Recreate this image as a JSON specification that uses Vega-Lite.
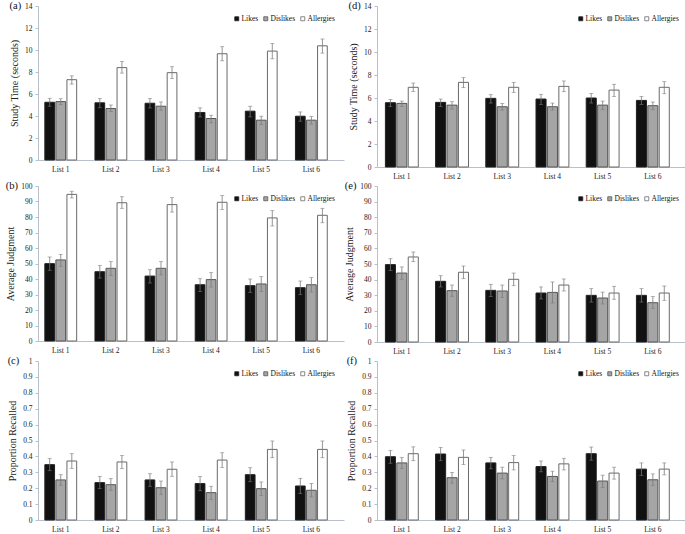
{
  "$schema": "https://vega.github.io/schema/vega-lite/v6.json",
  "background": "white",
  "padding": {"left": 5, "top": 0, "right": 0, "bottom": 0},
  "data": {"values": [
    {"p":"a","list":"List 1","cond":"Likes","m":5.25,"lo":4.89,"hi":5.61},
    {"p":"a","list":"List 1","cond":"Dislikes","m":5.31,"lo":5.04,"hi":5.57},
    {"p":"a","list":"List 1","cond":"Allergies","m":7.3,"lo":6.9,"hi":7.65},
    {"p":"a","list":"List 2","cond":"Likes","m":5.2,"lo":4.75,"hi":5.6},
    {"p":"a","list":"List 2","cond":"Dislikes","m":4.68,"lo":4.4,"hi":5.0},
    {"p":"a","list":"List 2","cond":"Allergies","m":8.4,"lo":7.9,"hi":8.95},
    {"p":"a","list":"List 3","cond":"Likes","m":5.16,"lo":4.73,"hi":5.58},
    {"p":"a","list":"List 3","cond":"Dislikes","m":4.89,"lo":4.53,"hi":5.28},
    {"p":"a","list":"List 3","cond":"Allergies","m":7.94,"lo":7.42,"hi":8.48},
    {"p":"a","list":"List 4","cond":"Likes","m":4.32,"lo":3.92,"hi":4.74},
    {"p":"a","list":"List 4","cond":"Dislikes","m":3.77,"lo":3.38,"hi":4.07},
    {"p":"a","list":"List 4","cond":"Allergies","m":9.66,"lo":9.02,"hi":10.3},
    {"p":"a","list":"List 5","cond":"Likes","m":4.44,"lo":3.92,"hi":4.89},
    {"p":"a","list":"List 5","cond":"Dislikes","m":3.62,"lo":3.23,"hi":3.98},
    {"p":"a","list":"List 5","cond":"Allergies","m":9.9,"lo":9.2,"hi":10.6},
    {"p":"a","list":"List 6","cond":"Likes","m":3.98,"lo":3.53,"hi":4.37},
    {"p":"a","list":"List 6","cond":"Dislikes","m":3.62,"lo":3.26,"hi":3.95},
    {"p":"a","list":"List 6","cond":"Allergies","m":10.38,"lo":9.72,"hi":11.0},

    {"p":"d","list":"List 1","cond":"Likes","m":5.59,"lo":5.27,"hi":5.88},
    {"p":"d","list":"List 1","cond":"Dislikes","m":5.53,"lo":5.27,"hi":5.73},
    {"p":"d","list":"List 1","cond":"Allergies","m":6.93,"lo":6.57,"hi":7.3},
    {"p":"d","list":"List 2","cond":"Likes","m":5.62,"lo":5.27,"hi":5.91},
    {"p":"d","list":"List 2","cond":"Dislikes","m":5.38,"lo":5.04,"hi":5.68},
    {"p":"d","list":"List 2","cond":"Allergies","m":7.36,"lo":6.9,"hi":7.77},
    {"p":"d","list":"List 3","cond":"Likes","m":5.97,"lo":5.56,"hi":6.29},
    {"p":"d","list":"List 3","cond":"Dislikes","m":5.24,"lo":4.95,"hi":5.53},
    {"p":"d","list":"List 3","cond":"Allergies","m":6.93,"lo":6.49,"hi":7.36},
    {"p":"d","list":"List 4","cond":"Likes","m":5.91,"lo":5.44,"hi":6.32},
    {"p":"d","list":"List 4","cond":"Dislikes","m":5.24,"lo":4.95,"hi":5.56},
    {"p":"d","list":"List 4","cond":"Allergies","m":7.01,"lo":6.55,"hi":7.48},
    {"p":"d","list":"List 5","cond":"Likes","m":6.0,"lo":5.56,"hi":6.4},
    {"p":"d","list":"List 5","cond":"Dislikes","m":5.38,"lo":4.98,"hi":5.73},
    {"p":"d","list":"List 5","cond":"Allergies","m":6.69,"lo":6.14,"hi":7.19},
    {"p":"d","list":"List 6","cond":"Likes","m":5.79,"lo":5.44,"hi":6.14},
    {"p":"d","list":"List 6","cond":"Dislikes","m":5.33,"lo":4.98,"hi":5.65},
    {"p":"d","list":"List 6","cond":"Allergies","m":6.93,"lo":6.37,"hi":7.42},

    {"p":"b","list":"List 1","cond":"Likes","m":49.9,"lo":45.6,"hi":54.2},
    {"p":"b","list":"List 1","cond":"Dislikes","m":52.3,"lo":48.2,"hi":55.9},
    {"p":"b","list":"List 1","cond":"Allergies","m":94.6,"lo":92.3,"hi":96.6},
    {"p":"b","list":"List 2","cond":"Likes","m":44.7,"lo":40.6,"hi":48.8},
    {"p":"b","list":"List 2","cond":"Dislikes","m":46.9,"lo":42.2,"hi":51.2},
    {"p":"b","list":"List 2","cond":"Allergies","m":89.2,"lo":85.6,"hi":93.1},
    {"p":"b","list":"List 3","cond":"Likes","m":41.9,"lo":37.4,"hi":46.0},
    {"p":"b","list":"List 3","cond":"Dislikes","m":46.9,"lo":42.6,"hi":51.2},
    {"p":"b","list":"List 3","cond":"Allergies","m":88.0,"lo":83.2,"hi":92.5},
    {"p":"b","list":"List 4","cond":"Likes","m":36.3,"lo":32.0,"hi":40.2},
    {"p":"b","list":"List 4","cond":"Dislikes","m":39.6,"lo":34.8,"hi":44.1},
    {"p":"b","list":"List 4","cond":"Allergies","m":89.5,"lo":84.9,"hi":93.8},
    {"p":"b","list":"List 5","cond":"Likes","m":35.7,"lo":31.4,"hi":40.0},
    {"p":"b","list":"List 5","cond":"Dislikes","m":36.8,"lo":32.0,"hi":41.5},
    {"p":"b","list":"List 5","cond":"Allergies","m":79.4,"lo":74.2,"hi":84.1},
    {"p":"b","list":"List 6","cond":"Likes","m":34.4,"lo":29.9,"hi":38.7},
    {"p":"b","list":"List 6","cond":"Dislikes","m":36.3,"lo":31.6,"hi":40.9},
    {"p":"b","list":"List 6","cond":"Allergies","m":81.1,"lo":76.3,"hi":85.6},

    {"p":"e","list":"List 1","cond":"Likes","m":49.6,"lo":45.9,"hi":53.4},
    {"p":"e","list":"List 1","cond":"Dislikes","m":44.2,"lo":40.2,"hi":48.1},
    {"p":"e","list":"List 1","cond":"Allergies","m":54.5,"lo":51.5,"hi":57.7},
    {"p":"e","list":"List 2","cond":"Likes","m":38.9,"lo":35.3,"hi":42.5},
    {"p":"e","list":"List 2","cond":"Dislikes","m":32.9,"lo":29.3,"hi":36.5},
    {"p":"e","list":"List 2","cond":"Allergies","m":44.7,"lo":40.6,"hi":48.7},
    {"p":"e","list":"List 3","cond":"Likes","m":33.1,"lo":29.1,"hi":37.0},
    {"p":"e","list":"List 3","cond":"Dislikes","m":32.7,"lo":28.6,"hi":36.5},
    {"p":"e","list":"List 3","cond":"Allergies","m":40.2,"lo":36.1,"hi":44.2},
    {"p":"e","list":"List 4","cond":"Likes","m":31.4,"lo":27.6,"hi":35.3},
    {"p":"e","list":"List 4","cond":"Dislikes","m":31.8,"lo":25.0,"hi":38.5},
    {"p":"e","list":"List 4","cond":"Allergies","m":36.5,"lo":32.7,"hi":40.4},
    {"p":"e","list":"List 5","cond":"Likes","m":29.9,"lo":25.6,"hi":34.2},
    {"p":"e","list":"List 5","cond":"Dislikes","m":28.2,"lo":24.4,"hi":32.0},
    {"p":"e","list":"List 5","cond":"Allergies","m":31.4,"lo":27.4,"hi":35.7},
    {"p":"e","list":"List 6","cond":"Likes","m":29.9,"lo":25.6,"hi":34.2},
    {"p":"e","list":"List 6","cond":"Dislikes","m":25.2,"lo":21.4,"hi":29.1},
    {"p":"e","list":"List 6","cond":"Allergies","m":31.4,"lo":26.7,"hi":35.9},

    {"p":"c","list":"List 1","cond":"Likes","m":0.348,"lo":0.31,"hi":0.386},
    {"p":"c","list":"List 1","cond":"Dislikes","m":0.252,"lo":0.218,"hi":0.285},
    {"p":"c","list":"List 1","cond":"Allergies","m":0.371,"lo":0.325,"hi":0.417},
    {"p":"c","list":"List 2","cond":"Likes","m":0.235,"lo":0.197,"hi":0.273},
    {"p":"c","list":"List 2","cond":"Dislikes","m":0.222,"lo":0.187,"hi":0.26},
    {"p":"c","list":"List 2","cond":"Allergies","m":0.365,"lo":0.323,"hi":0.405},
    {"p":"c","list":"List 3","cond":"Likes","m":0.252,"lo":0.212,"hi":0.291},
    {"p":"c","list":"List 3","cond":"Dislikes","m":0.203,"lo":0.161,"hi":0.245},
    {"p":"c","list":"List 3","cond":"Allergies","m":0.319,"lo":0.275,"hi":0.365},
    {"p":"c","list":"List 4","cond":"Likes","m":0.229,"lo":0.184,"hi":0.273},
    {"p":"c","list":"List 4","cond":"Dislikes","m":0.172,"lo":0.13,"hi":0.212},
    {"p":"c","list":"List 4","cond":"Allergies","m":0.377,"lo":0.331,"hi":0.423},
    {"p":"c","list":"List 5","cond":"Likes","m":0.285,"lo":0.241,"hi":0.329},
    {"p":"c","list":"List 5","cond":"Dislikes","m":0.197,"lo":0.155,"hi":0.239},
    {"p":"c","list":"List 5","cond":"Allergies","m":0.444,"lo":0.392,"hi":0.497},
    {"p":"c","list":"List 6","cond":"Likes","m":0.214,"lo":0.166,"hi":0.262},
    {"p":"c","list":"List 6","cond":"Dislikes","m":0.187,"lo":0.145,"hi":0.229},
    {"p":"c","list":"List 6","cond":"Allergies","m":0.444,"lo":0.392,"hi":0.497},

    {"p":"f","list":"List 1","cond":"Likes","m":0.398,"lo":0.357,"hi":0.438},
    {"p":"f","list":"List 1","cond":"Dislikes","m":0.359,"lo":0.324,"hi":0.394},
    {"p":"f","list":"List 1","cond":"Allergies","m":0.417,"lo":0.373,"hi":0.46},
    {"p":"f","list":"List 2","cond":"Likes","m":0.415,"lo":0.373,"hi":0.456},
    {"p":"f","list":"List 2","cond":"Dislikes","m":0.266,"lo":0.232,"hi":0.299},
    {"p":"f","list":"List 2","cond":"Allergies","m":0.394,"lo":0.349,"hi":0.44},
    {"p":"f","list":"List 3","cond":"Likes","m":0.359,"lo":0.322,"hi":0.394},
    {"p":"f","list":"List 3","cond":"Dislikes","m":0.295,"lo":0.259,"hi":0.332},
    {"p":"f","list":"List 3","cond":"Allergies","m":0.361,"lo":0.315,"hi":0.405},
    {"p":"f","list":"List 4","cond":"Likes","m":0.336,"lo":0.303,"hi":0.371},
    {"p":"f","list":"List 4","cond":"Dislikes","m":0.274,"lo":0.241,"hi":0.307},
    {"p":"f","list":"List 4","cond":"Allergies","m":0.353,"lo":0.315,"hi":0.388},
    {"p":"f","list":"List 5","cond":"Likes","m":0.417,"lo":0.376,"hi":0.459},
    {"p":"f","list":"List 5","cond":"Dislikes","m":0.245,"lo":0.205,"hi":0.282},
    {"p":"f","list":"List 5","cond":"Allergies","m":0.295,"lo":0.257,"hi":0.332},
    {"p":"f","list":"List 6","cond":"Likes","m":0.32,"lo":0.28,"hi":0.359},
    {"p":"f","list":"List 6","cond":"Dislikes","m":0.253,"lo":0.216,"hi":0.29},
    {"p":"f","list":"List 6","cond":"Allergies","m":0.32,"lo":0.284,"hi":0.359}
  ]},
  "columns": 2,
  "spacing": {"row": 0, "column": 0},
  "resolve": {
    "scale": {"y": "independent", "x": "independent", "xOffset": "independent", "fill": "independent", "stroke": "independent"},
    "legend": {"fill": "independent", "stroke": "independent"}
  },
  "concat": [
    {
      "title": {"text": "(a)"},
      "width": 306, "height": 154,
      "transform": [{"filter": "datum.p == 'a'"}],
      "encoding": {
        "x": {"field": "list", "type": "nominal", "sort": null, "scale": {"paddingInner": 0.365, "paddingOuter": 0.235, "align": 0.29}, "axis": {"title": null}},
        "xOffset": {"field": "cond", "type": "nominal", "sort": ["Likes", "Dislikes", "Allergies"], "scale": {"paddingInner": 0.12, "paddingOuter": 0}}
      },
      "layer": [
        {"mark": {"type": "bar", "strokeWidth": 1},
         "encoding": {
           "y": {"field": "m", "type": "quantitative", "scale": {"domain": [0, 14], "nice": false}, "axis": {"title": "Study Time (seconds)", "values": [0,2,4,6,8,10,12,14]}},
           "fill": {"field": "cond", "type": "nominal", "sort": ["Likes", "Dislikes", "Allergies"], "scale": {"domain": ["Likes", "Dislikes", "Allergies"], "range": ["#111111", "#a5a5a5", "#ffffff"]}, "title": null},
           "stroke": {"field": "cond", "type": "nominal", "sort": ["Likes", "Dislikes", "Allergies"], "scale": {"domain": ["Likes", "Dislikes", "Allergies"], "range": ["#222222", "#555555", "#6a6a6a"]}, "title": null}
         }},
        {"mark": {"type": "rule", "color": "#7a7a7a", "strokeWidth": 0.8}, "encoding": {"y": {"field": "lo", "type": "quantitative", "axis": {"title": "Study Time (seconds)", "values": [0,2,4,6,8,10,12,14]}}, "y2": {"field": "hi"}}},
        {"mark": {"type": "tick", "color": "#7a7a7a", "size": 4, "thickness": 0.8}, "encoding": {"y": {"field": "lo", "type": "quantitative", "axis": {"title": "Study Time (seconds)", "values": [0,2,4,6,8,10,12,14]}}}},
        {"mark": {"type": "tick", "color": "#7a7a7a", "size": 4, "thickness": 0.8}, "encoding": {"y": {"field": "hi", "type": "quantitative", "axis": {"title": "Study Time (seconds)", "values": [0,2,4,6,8,10,12,14]}}}}
      ]
    },
    {
      "title": {"text": "(d)"},
      "width": 311, "height": 161,
      "transform": [{"filter": "datum.p == 'd'"}],
      "encoding": {
        "x": {"field": "list", "type": "nominal", "sort": null, "scale": {"paddingInner": 0.345, "paddingOuter": 0.27, "align": 0.31}, "axis": {"title": null}},
        "xOffset": {"field": "cond", "type": "nominal", "sort": ["Likes", "Dislikes", "Allergies"], "scale": {"paddingInner": 0.12, "paddingOuter": 0}}
      },
      "layer": [
        {"mark": {"type": "bar", "strokeWidth": 1},
         "encoding": {
           "y": {"field": "m", "type": "quantitative", "scale": {"domain": [0, 14], "nice": false}, "axis": {"title": "Study Time (seconds)", "values": [0,2,4,6,8,10,12,14]}},
           "fill": {"field": "cond", "type": "nominal", "sort": ["Likes", "Dislikes", "Allergies"], "scale": {"domain": ["Likes", "Dislikes", "Allergies"], "range": ["#111111", "#a5a5a5", "#ffffff"]}, "title": null},
           "stroke": {"field": "cond", "type": "nominal", "sort": ["Likes", "Dislikes", "Allergies"], "scale": {"domain": ["Likes", "Dislikes", "Allergies"], "range": ["#222222", "#555555", "#6a6a6a"]}, "title": null}
         }},
        {"mark": {"type": "rule", "color": "#7a7a7a", "strokeWidth": 0.8}, "encoding": {"y": {"field": "lo", "type": "quantitative", "axis": {"title": "Study Time (seconds)", "values": [0,2,4,6,8,10,12,14]}}, "y2": {"field": "hi"}}},
        {"mark": {"type": "tick", "color": "#7a7a7a", "size": 4, "thickness": 0.8}, "encoding": {"y": {"field": "lo", "type": "quantitative", "axis": {"title": "Study Time (seconds)", "values": [0,2,4,6,8,10,12,14]}}}},
        {"mark": {"type": "tick", "color": "#7a7a7a", "size": 4, "thickness": 0.8}, "encoding": {"y": {"field": "hi", "type": "quantitative", "axis": {"title": "Study Time (seconds)", "values": [0,2,4,6,8,10,12,14]}}}}
      ]
    },
    {
      "title": {"text": "(b)"},
      "width": 306, "height": 155,
      "transform": [{"filter": "datum.p == 'b'"}],
      "encoding": {
        "x": {"field": "list", "type": "nominal", "sort": null, "scale": {"paddingInner": 0.365, "paddingOuter": 0.235, "align": 0.29}, "axis": {"title": null}},
        "xOffset": {"field": "cond", "type": "nominal", "sort": ["Likes", "Dislikes", "Allergies"], "scale": {"paddingInner": 0.12, "paddingOuter": 0}}
      },
      "layer": [
        {"mark": {"type": "bar", "strokeWidth": 1},
         "encoding": {
           "y": {"field": "m", "type": "quantitative", "scale": {"domain": [0, 100], "nice": false}, "axis": {"title": "Average Judgment", "values": [0,10,20,30,40,50,60,70,80,90,100]}},
           "fill": {"field": "cond", "type": "nominal", "sort": ["Likes", "Dislikes", "Allergies"], "scale": {"domain": ["Likes", "Dislikes", "Allergies"], "range": ["#111111", "#a5a5a5", "#ffffff"]}, "title": null},
           "stroke": {"field": "cond", "type": "nominal", "sort": ["Likes", "Dislikes", "Allergies"], "scale": {"domain": ["Likes", "Dislikes", "Allergies"], "range": ["#222222", "#555555", "#6a6a6a"]}, "title": null}
         }},
        {"mark": {"type": "rule", "color": "#7a7a7a", "strokeWidth": 0.8}, "encoding": {"y": {"field": "lo", "type": "quantitative", "axis": {"title": "Average Judgment", "values": [0,10,20,30,40,50,60,70,80,90,100]}}, "y2": {"field": "hi"}}},
        {"mark": {"type": "tick", "color": "#7a7a7a", "size": 4, "thickness": 0.8}, "encoding": {"y": {"field": "lo", "type": "quantitative", "axis": {"title": "Average Judgment", "values": [0,10,20,30,40,50,60,70,80,90,100]}}}},
        {"mark": {"type": "tick", "color": "#7a7a7a", "size": 4, "thickness": 0.8}, "encoding": {"y": {"field": "hi", "type": "quantitative", "axis": {"title": "Average Judgment", "values": [0,10,20,30,40,50,60,70,80,90,100]}}}}
      ]
    },
    {
      "title": {"text": "(e)"},
      "width": 311, "height": 156,
      "transform": [{"filter": "datum.p == 'e'"}],
      "encoding": {
        "x": {"field": "list", "type": "nominal", "sort": null, "scale": {"paddingInner": 0.345, "paddingOuter": 0.27, "align": 0.31}, "axis": {"title": null}},
        "xOffset": {"field": "cond", "type": "nominal", "sort": ["Likes", "Dislikes", "Allergies"], "scale": {"paddingInner": 0.12, "paddingOuter": 0}}
      },
      "layer": [
        {"mark": {"type": "bar", "strokeWidth": 1},
         "encoding": {
           "y": {"field": "m", "type": "quantitative", "scale": {"domain": [0, 100], "nice": false}, "axis": {"title": "Average Judgment", "values": [0,10,20,30,40,50,60,70,80,90,100]}},
           "fill": {"field": "cond", "type": "nominal", "sort": ["Likes", "Dislikes", "Allergies"], "scale": {"domain": ["Likes", "Dislikes", "Allergies"], "range": ["#111111", "#a5a5a5", "#ffffff"]}, "title": null},
           "stroke": {"field": "cond", "type": "nominal", "sort": ["Likes", "Dislikes", "Allergies"], "scale": {"domain": ["Likes", "Dislikes", "Allergies"], "range": ["#222222", "#555555", "#6a6a6a"]}, "title": null}
         }},
        {"mark": {"type": "rule", "color": "#7a7a7a", "strokeWidth": 0.8}, "encoding": {"y": {"field": "lo", "type": "quantitative", "axis": {"title": "Average Judgment", "values": [0,10,20,30,40,50,60,70,80,90,100]}}, "y2": {"field": "hi"}}},
        {"mark": {"type": "tick", "color": "#7a7a7a", "size": 4, "thickness": 0.8}, "encoding": {"y": {"field": "lo", "type": "quantitative", "axis": {"title": "Average Judgment", "values": [0,10,20,30,40,50,60,70,80,90,100]}}}},
        {"mark": {"type": "tick", "color": "#7a7a7a", "size": 4, "thickness": 0.8}, "encoding": {"y": {"field": "hi", "type": "quantitative", "axis": {"title": "Average Judgment", "values": [0,10,20,30,40,50,60,70,80,90,100]}}}}
      ]
    },
    {
      "title": {"text": "(c)"},
      "width": 306, "height": 159,
      "transform": [{"filter": "datum.p == 'c'"}],
      "encoding": {
        "x": {"field": "list", "type": "nominal", "sort": null, "scale": {"paddingInner": 0.365, "paddingOuter": 0.235, "align": 0.29}, "axis": {"title": null}},
        "xOffset": {"field": "cond", "type": "nominal", "sort": ["Likes", "Dislikes", "Allergies"], "scale": {"paddingInner": 0.12, "paddingOuter": 0}}
      },
      "layer": [
        {"mark": {"type": "bar", "strokeWidth": 1},
         "encoding": {
           "y": {"field": "m", "type": "quantitative", "scale": {"domain": [0, 1], "nice": false}, "axis": {"title": "Proportion Recalled", "values": [0,0.1,0.2,0.3,0.4,0.5,0.6,0.7,0.8,0.9,1], "format": "~g"}},
           "fill": {"field": "cond", "type": "nominal", "sort": ["Likes", "Dislikes", "Allergies"], "scale": {"domain": ["Likes", "Dislikes", "Allergies"], "range": ["#111111", "#a5a5a5", "#ffffff"]}, "title": null},
           "stroke": {"field": "cond", "type": "nominal", "sort": ["Likes", "Dislikes", "Allergies"], "scale": {"domain": ["Likes", "Dislikes", "Allergies"], "range": ["#222222", "#555555", "#6a6a6a"]}, "title": null}
         }},
        {"mark": {"type": "rule", "color": "#7a7a7a", "strokeWidth": 0.8}, "encoding": {"y": {"field": "lo", "type": "quantitative", "axis": {"title": "Proportion Recalled", "values": [0,0.1,0.2,0.3,0.4,0.5,0.6,0.7,0.8,0.9,1], "format": "~g"}}, "y2": {"field": "hi"}}},
        {"mark": {"type": "tick", "color": "#7a7a7a", "size": 4, "thickness": 0.8}, "encoding": {"y": {"field": "lo", "type": "quantitative", "axis": {"title": "Proportion Recalled", "values": [0,0.1,0.2,0.3,0.4,0.5,0.6,0.7,0.8,0.9,1], "format": "~g"}}}},
        {"mark": {"type": "tick", "color": "#7a7a7a", "size": 4, "thickness": 0.8}, "encoding": {"y": {"field": "hi", "type": "quantitative", "axis": {"title": "Proportion Recalled", "values": [0,0.1,0.2,0.3,0.4,0.5,0.6,0.7,0.8,0.9,1], "format": "~g"}}}}
      ]
    },
    {
      "title": {"text": "(f)"},
      "width": 311, "height": 159,
      "transform": [{"filter": "datum.p == 'f'"}],
      "encoding": {
        "x": {"field": "list", "type": "nominal", "sort": null, "scale": {"paddingInner": 0.345, "paddingOuter": 0.27, "align": 0.31}, "axis": {"title": null}},
        "xOffset": {"field": "cond", "type": "nominal", "sort": ["Likes", "Dislikes", "Allergies"], "scale": {"paddingInner": 0.12, "paddingOuter": 0}}
      },
      "layer": [
        {"mark": {"type": "bar", "strokeWidth": 1},
         "encoding": {
           "y": {"field": "m", "type": "quantitative", "scale": {"domain": [0, 1], "nice": false}, "axis": {"title": "Proportion Recalled", "values": [0,0.1,0.2,0.3,0.4,0.5,0.6,0.7,0.8,0.9,1], "format": "~g"}},
           "fill": {"field": "cond", "type": "nominal", "sort": ["Likes", "Dislikes", "Allergies"], "scale": {"domain": ["Likes", "Dislikes", "Allergies"], "range": ["#111111", "#a5a5a5", "#ffffff"]}, "title": null},
           "stroke": {"field": "cond", "type": "nominal", "sort": ["Likes", "Dislikes", "Allergies"], "scale": {"domain": ["Likes", "Dislikes", "Allergies"], "range": ["#222222", "#555555", "#6a6a6a"]}, "title": null}
         }},
        {"mark": {"type": "rule", "color": "#7a7a7a", "strokeWidth": 0.8}, "encoding": {"y": {"field": "lo", "type": "quantitative", "axis": {"title": "Proportion Recalled", "values": [0,0.1,0.2,0.3,0.4,0.5,0.6,0.7,0.8,0.9,1], "format": "~g"}}, "y2": {"field": "hi"}}},
        {"mark": {"type": "tick", "color": "#7a7a7a", "size": 4, "thickness": 0.8}, "encoding": {"y": {"field": "lo", "type": "quantitative", "axis": {"title": "Proportion Recalled", "values": [0,0.1,0.2,0.3,0.4,0.5,0.6,0.7,0.8,0.9,1], "format": "~g"}}}},
        {"mark": {"type": "tick", "color": "#7a7a7a", "size": 4, "thickness": 0.8}, "encoding": {"y": {"field": "hi", "type": "quantitative", "axis": {"title": "Proportion Recalled", "values": [0,0.1,0.2,0.3,0.4,0.5,0.6,0.7,0.8,0.9,1], "format": "~g"}}}}
      ]
    }
  ],
  "config": {
    "font": "Liberation Serif",
    "view": {"stroke": null},
    "title": {"font": "Liberation Serif", "fontSize": 10.5, "fontWeight": "normal", "anchor": "start", "frame": "bounds", "dy": 13, "dx": 0, "offset": 0, "color": "#111"},
    "axis": {"grid": false, "domainColor": "#b8c0cc", "tickColor": "#b8c0cc", "labelFont": "Liberation Serif", "titleFont": "Liberation Serif", "titleFontWeight": "normal", "labelColor": "#222", "titleColor": "#222", "labelOverlap": false},
    "axisX": {"ticks": false, "labelAngle": 0, "labelFontSize": 7.5, "labelPadding": 5},
    "axisY": {"tickSize": 3, "labelFontSize": 7.5, "titleFontSize": 10, "labelPadding": 3, "titlePadding": 5},
    "legend": {"orient": "top-right", "offset": 9, "direction": "horizontal", "padding": 0, "gridAlign": "none", "labelFont": "Liberation Serif", "labelFontSize": 7.5, "labelColor": "#111", "symbolType": "square", "symbolSize": 16, "symbolStrokeWidth": 0.8, "labelOffset": 1, "columnPadding": 3, "symbolOffset": 0}
  }
}
